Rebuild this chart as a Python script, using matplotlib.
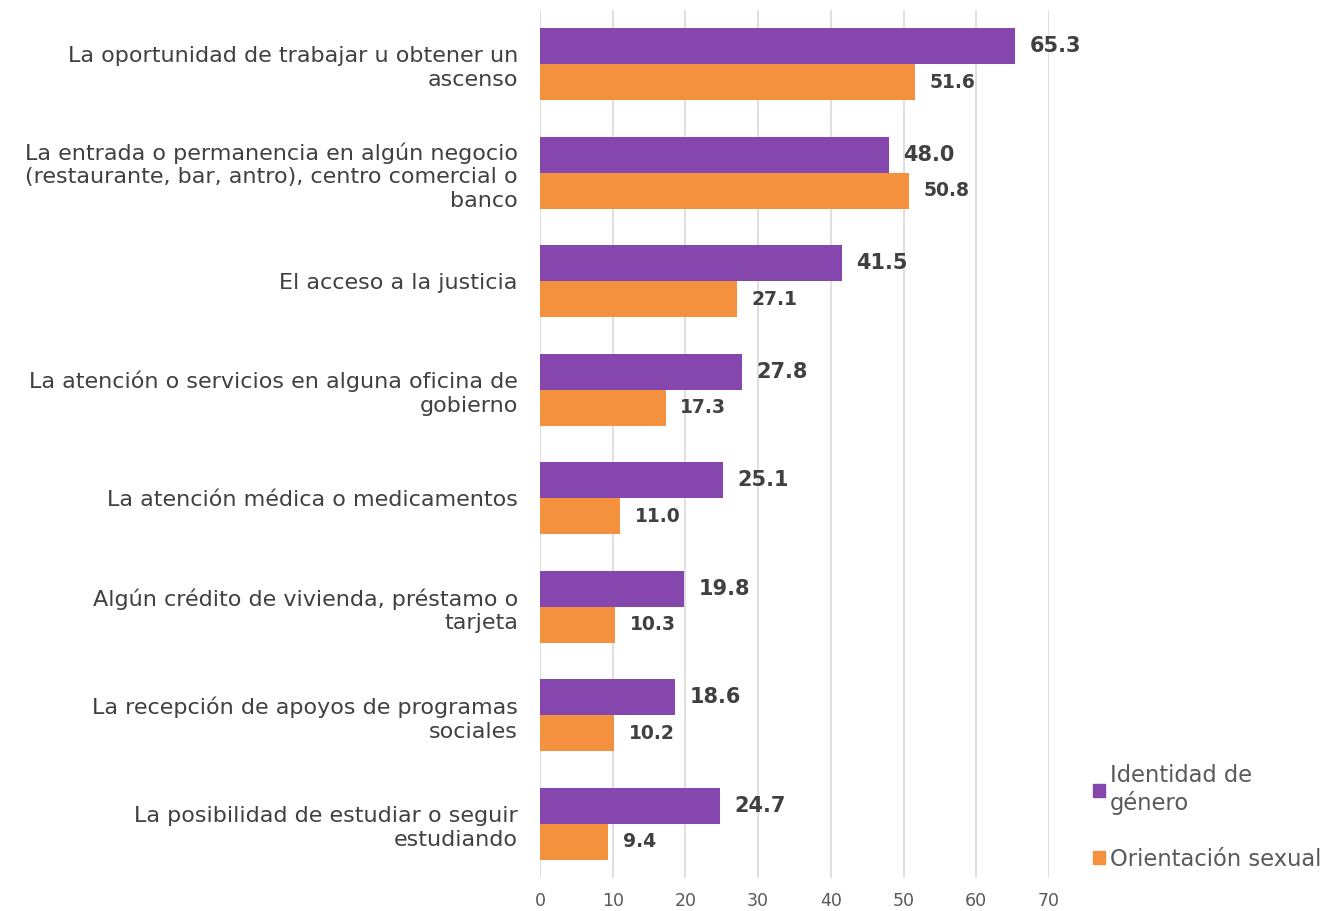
import matplotlib
matplotlib.use("Agg")
import matplotlib.pyplot as plt
import numpy as np
from matplotlib.patches import Patch

plt.rcParams['font.family'] = ['DejaVu Sans']

categories = [
    "La oportunidad de trabajar u obtener un\nascenso",
    "La entrada o permanencia en algún negocio\n(restaurante, bar, antro), centro comercial o\nbanco",
    "El acceso a la justicia",
    "La atención o servicios en alguna oficina de\ngobierno",
    "La atención médica o medicamentos",
    "Algún crédito de vivienda, préstamo o\ntarjeta",
    "La recepción de apoyos de programas\nsociales",
    "La posibilidad de estudiar o seguir\nestudiando",
]
identidad = [65.3, 48.0, 41.5, 27.8, 25.1, 19.8, 18.6, 24.7]
orientacion = [51.6, 50.8, 27.1, 17.3, 11.0, 10.3, 10.2, 9.4]
series_names = ["Identidad de\ngénero", "Orientación sexual"]
xticks = [0, 10, 20, 30, 40, 50, 60, 70]

purple = "#8547AD"
orange = "#F3913F"
txt = "#404040"

fig = plt.figure(figsize=(13.4, 9.11), dpi=100)
ax = fig.add_axes([540/1340, 1-878/911, (1049-540)/1340, 868/911])

n = len(categories)
y = np.arange(n)
h = 0.33
ax.barh(y - h/2, identidad, height=h, color=purple, zorder=3)
ax.barh(y + h/2, orientacion, height=h, color=orange, zorder=3)

for yi, v in zip(y, identidad):
    ax.text(v + 2, yi - h/2, f"{v:.1f}", va='center', ha='left', fontsize=15,
            fontweight='bold', color=txt)
for yi, v in zip(y, orientacion):
    ax.text(v + 2, yi + h/2, f"{v:.1f}", va='center', ha='left', fontsize=13.5,
            fontweight='bold', color=txt)

ax.set_ylim(n - 0.5, -0.5)
ax.set_xlim(0, 70)
ax.set_yticks(y)
ax.set_yticklabels(categories, fontsize=16, color=txt, linespacing=1.24)
ax.set_xticks(xticks)
ax.set_xticklabels([str(t) for t in xticks], fontsize=12.5, color="#595959")
ax.tick_params(axis='both', length=0)
ax.tick_params(axis='y', pad=16)
ax.tick_params(axis='x', pad=10)
for s in ax.spines.values():
    s.set_visible(False)
ax.xaxis.grid(True, color="#D9D9D9", linewidth=1.2, zorder=0)
ax.set_axisbelow(True)

handles = [Patch(color=purple), Patch(color=orange)]
fig.legend(handles, series_names, loc='upper left', bbox_to_anchor=(1093/1340, 1-764/911),
           frameon=False, fontsize=16.3, handlelength=0.55, handleheight=0.55,
           handletextpad=0.2, labelspacing=1.45, labelcolor="#595959",
           borderpad=0, borderaxespad=0)

fig.savefig("out.png", dpi=100)
